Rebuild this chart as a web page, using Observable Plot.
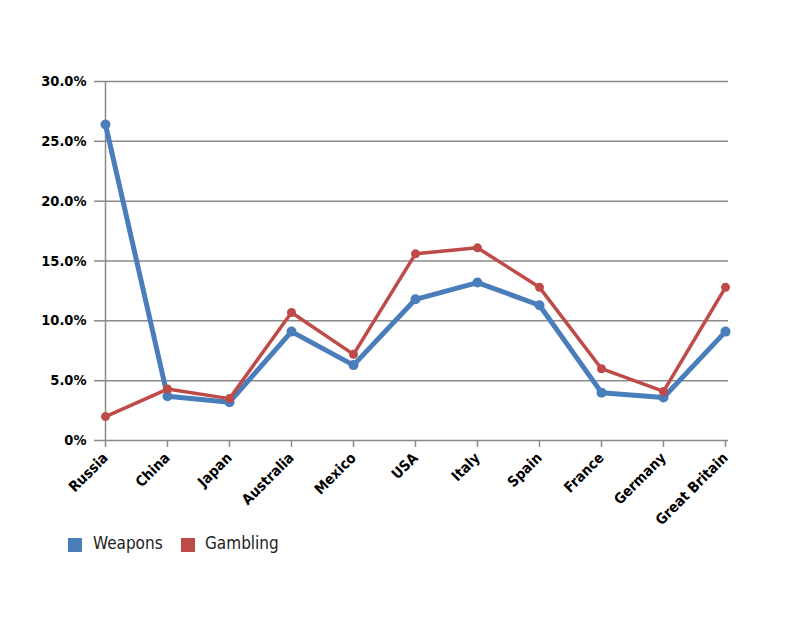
<!DOCTYPE html>
<html>
<head>
<meta charset="utf-8">
<script src="https://cdn.jsdelivr.net/npm/d3@7"></script>
<script src="https://cdn.jsdelivr.net/npm/@observablehq/plot@0.6"></script>
<style>
  body { margin: 0; background: #fff; font-family: "DejaVu Sans Condensed", "DejaVu Sans", sans-serif; font-stretch: condensed; }
  #chart svg { display: block; }
  #chart svg text { font-stretch: condensed; }
  .sw { position: absolute; width: 14px; height: 14px; top: 538px; }
  .lb { position: absolute; top: 533px; font-size: 17px; color: #222; font-stretch: condensed; }
</style>
</head>
<body>
<div id="chart"></div>
<div class="sw" style="left:68px;background:#4A7EBB"></div>
<div class="lb" style="left:93px">Weapons</div>
<div class="sw" style="left:181px;background:#BE4B48"></div>
<div class="lb" style="left:205px">Gambling</div>
<script>
const countries = ["Russia","China","Japan","Australia","Mexico","USA","Italy","Spain","France","Germany","Great Britain"];
const weapons  = [26.4, 3.7, 3.2, 9.1, 6.3, 11.8, 13.2, 11.3, 4.0, 3.6, 9.1];
const gambling = [2.0, 4.3, 3.5, 10.7, 7.2, 15.6, 16.1, 12.8, 6.0, 4.1, 12.8];
const yTicks = [0, 5, 10, 15, 20, 25, 30];

const wData = countries.map((c, i) => ({country: c, value: weapons[i]}));
const gData = countries.map((c, i) => ({country: c, value: gambling[i]}));

const BLUE = "#4A7EBB", RED = "#BE4B48", GRID = "#8a8a8a";

const chart = Plot.plot({
  width: 800,
  height: 530,
  marginLeft: 102,
  marginRight: 72,
  marginTop: 81,
  marginBottom: 90,
  style: {fontFamily: '"DejaVu Sans Condensed", "DejaVu Sans", sans-serif', fontSize: "14.5px", fontWeight: "bold", color: "#000", overflow: "visible"},
  x: {type: "point", domain: countries, padding: 0},
  y: {domain: [0, 30]},
  marks: [
    Plot.ruleY(yTicks.filter(d => d > 0), {stroke: GRID, strokeWidth: 1.5, strokeOpacity: 1}),
    Plot.ruleY([0], {stroke: GRID, strokeWidth: 1.5}),
    Plot.ruleX(["Russia"], {y1: 0, y2: 30, stroke: GRID, strokeWidth: 1.5}),
    Plot.axisY({ticks: yTicks, tickSize: 8, tickPadding: 8, stroke: GRID, strokeWidth: 1.5, strokeOpacity: 1,
      tickFormat: d => d === 0 ? "0%" : d.toFixed(1) + "%", label: null, fill: "#000"}),
    Plot.axisX({tickSize: 7, tickPadding: 8, tickRotate: -45, stroke: GRID, strokeWidth: 1.5, strokeOpacity: 1, label: null, fill: "#000"}),
    Plot.line(wData, {x: "country", y: "value", stroke: BLUE, strokeWidth: 5, strokeLinejoin: "round"}),
    Plot.dot(wData, {x: "country", y: "value", r: 5, fill: BLUE}),
    Plot.line(gData, {x: "country", y: "value", stroke: RED, strokeWidth: 3.5, strokeLinejoin: "round"}),
    Plot.dot(gData, {x: "country", y: "value", r: 4.5, fill: RED})
  ]
});
document.getElementById("chart").appendChild(chart);
</script>
</body>
</html>
